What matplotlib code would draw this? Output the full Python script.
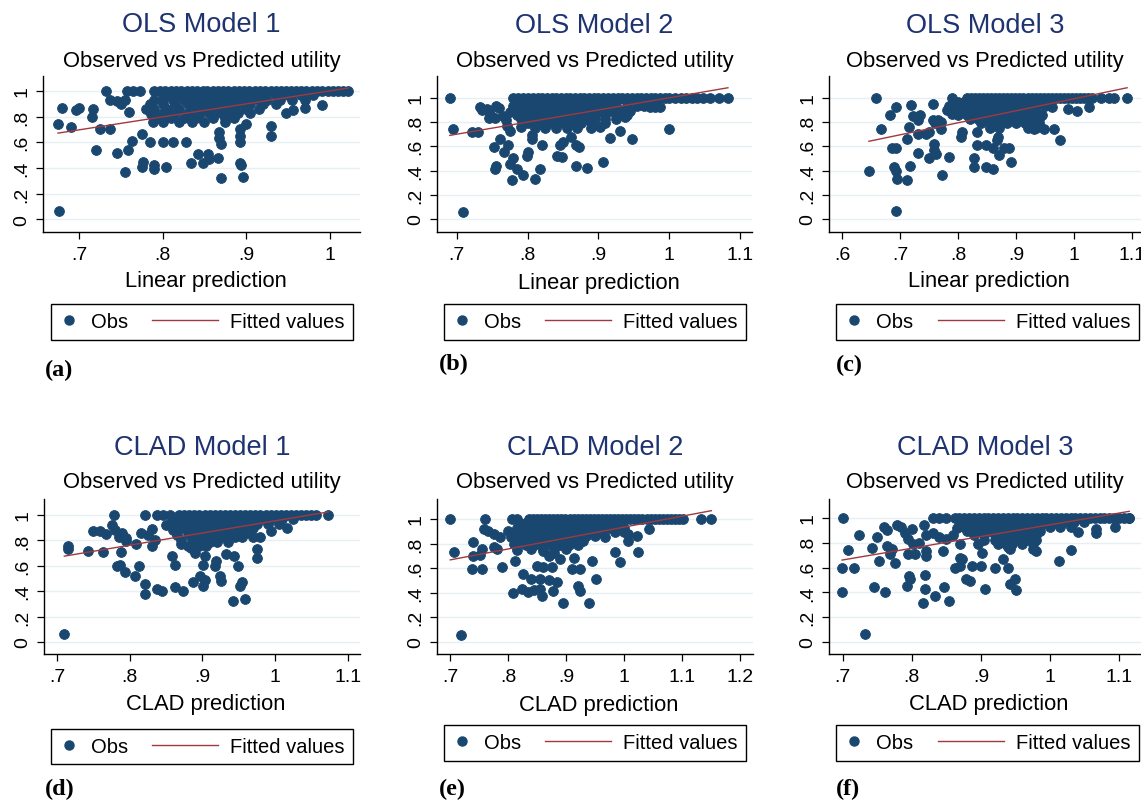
import numpy as np
import matplotlib
matplotlib.use("Agg")
import matplotlib.pyplot as plt
from matplotlib.lines import Line2D
from matplotlib.legend_handler import HandlerBase

# ---------------- data ----------------
titles = ["OLS Model 1", "OLS Model 2", "OLS Model 3",
          "CLAD Model 1", "CLAD Model 2", "CLAD Model 3"]
subtitle = "Observed vs Predicted utility"
xlabels = ["Linear prediction"] * 3 + ["CLAD prediction"] * 3
panel_tags = ["(a)", "(b)", "(c)", "(d)", "(e)", "(f)"]
legend_labels = ["Obs", "Fitted values"]

y_ticks = [0, 0.2, 0.4, 0.6, 0.8, 1.0]
y_ticklabels = ["0", ".2", ".4", ".6", ".8", "1"]
x_ticks = [
    [0.7, 0.8, 0.9, 1.0],
    [0.7, 0.8, 0.9, 1.0, 1.1],
    [0.6, 0.7, 0.8, 0.9, 1.0, 1.1],
    [0.7, 0.8, 0.9, 1.0, 1.1],
    [0.7, 0.8, 0.9, 1.0, 1.1, 1.2],
    [0.7, 0.8, 0.9, 1.0, 1.1],
]
x_ticklabels = [
    [".7", ".8", ".9", "1"],
    [".7", ".8", ".9", "1", "1.1"],
    [".6", ".7", ".8", ".9", "1", "1.1"],
    [".7", ".8", ".9", "1", "1.1"],
    [".7", ".8", ".9", "1", "1.1", "1.2"],
    [".7", ".8", ".9", "1", "1.1"],
]

# fitted line: (intercept, slope)
fits = [(-0.013, 1.014), (0.0, 1.0), (0.002, 0.99),
        (-0.004, 0.958), (0.047, 0.887), (0.0, 0.945)]

# --- OLS model 1 (prediction, observed) ---
ols1_pts = [(0.675,0.74),(0.68,0.87),(0.676,0.06),(0.69,0.72),(0.697,0.85),(0.70,0.87),
    (0.717,0.86),(0.716,0.80),(0.72,0.54),(0.725,0.70),(0.737,0.70),(0.732,1.0),(0.737,0.93),
    (0.745,0.92),(0.75,0.90),(0.755,0.93),(0.76,0.84),(0.745,0.52),(0.755,0.365),(0.759,0.54),
    (0.764,0.61),(0.757,1.0),(0.765,1.0),(0.773,1.0),(0.775,0.665),(0.777,0.445),(0.775,0.405),
    (0.785,0.60),(0.79,0.42),(0.79,0.39),(0.78,0.86),(0.786,0.82),(0.788,0.76),(0.80,0.60),
    (0.804,0.41),(0.812,0.60),(0.828,0.60),(0.834,0.44),(0.842,0.51),(0.848,0.44),(0.854,0.51),
    (0.856,0.47),(0.866,0.48),(0.868,0.68),(0.868,0.63),(0.87,0.59),(0.87,0.32),(0.892,0.70),
    (0.892,0.65),(0.892,0.60),(0.892,0.44),(0.894,0.42),(0.896,0.33),(0.90,0.74),(0.93,0.73),
    (0.93,0.65),(0.948,0.83),(0.956,0.85),(0.97,0.87),(0.99,0.89),(1.022,1.0)]
ols1_rows = {
    1.0: [0.79,0.797,0.803,0.81,0.816,0.822,0.829,0.835,0.841,0.848,0.853,0.86,0.866,0.872,0.878,
          0.885,0.891,0.897,0.903,0.91,0.916,0.922,0.929,0.935,0.941,0.947,0.953,0.96,0.966,0.972,
          0.979,0.985,0.991,0.998,1.004,1.01,1.016],
    0.965: [0.80,0.81,0.82,0.83,0.84,0.85,0.86,0.87,0.88,0.89,0.90,0.91,0.92,0.935,0.95,0.965,0.98],
    0.93: [0.79,0.80,0.812,0.825,0.835,0.845,0.855,0.865,0.875,0.885,0.895,0.905,0.915,0.925,0.94,0.955,0.97],
    0.895: [0.785,0.80,0.815,0.83,0.84,0.85,0.86,0.87,0.88,0.89,0.905,0.92,0.935],
    0.86: [0.79,0.805,0.82,0.835,0.845,0.855,0.865,0.875,0.885,0.90,0.915],
    0.825: [0.80,0.815,0.83,0.845,0.855,0.87,0.88,0.89,0.905],
    0.79: [0.795,0.81,0.825,0.84,0.86,0.875,0.885],
    0.755: [0.80,0.82,0.835,0.85,0.875],
}

# --- OLS model 2 ---
ols2_pts = [(0.69,1.0),(0.695,0.745),(0.709,0.06),(0.721,0.72),(0.73,0.72),(0.733,0.925),
    (0.735,0.90),(0.742,0.91),(0.747,0.87),(0.752,0.595),(0.754,0.41),(0.756,0.44),(0.755,0.93),
    (0.76,0.92),(0.765,0.85),(0.77,0.82),(0.775,0.88),(0.761,0.66),(0.766,0.55),(0.773,0.61),
    (0.775,0.455),(0.778,0.32),(0.78,0.50),(0.785,0.415),(0.794,0.36),(0.799,0.52),(0.80,0.55),
    (0.806,0.69),(0.806,0.66),(0.811,0.33),(0.818,0.415),(0.82,0.61),(0.841,0.52),(0.848,0.51),
    (0.846,0.61),(0.85,0.635),(0.862,0.675),(0.869,0.61),(0.872,0.595),(0.869,0.44),(0.884,0.42),
    (0.907,0.47),(0.902,0.76),(0.916,0.67),(0.93,0.73),(0.947,0.66),(0.938,0.84),(0.973,0.925),
    (0.987,0.925),(0.98,0.925),(1.0,0.745),(1.083,1.0),(1.07,1.0),(1.058,1.0),(0.754,0.83),
    (0.771,0.77),(0.775,0.73),(0.79,0.76),(0.745,0.83)]
ols2_rows = {
    1.0: [0.78,0.787,0.794,0.80,0.807,0.814,0.82,0.827,0.834,0.84,0.847,0.854,0.86,0.867,0.874,
          0.88,0.887,0.894,0.90,0.907,0.914,0.92,0.927,0.934,0.94,0.947,0.954,0.96,0.967,0.974,
          0.98,0.987,0.994,1.0,1.008,1.016,1.024,1.032,1.04,1.048],
    0.965: [0.785,0.795,0.805,0.815,0.825,0.835,0.845,0.855,0.865,0.875,0.885,0.895,0.905,0.915,0.925,0.94,0.955],
    0.93: [0.78,0.79,0.80,0.81,0.82,0.83,0.84,0.85,0.86,0.87,0.88,0.89,0.90,0.91,0.925,0.94,0.955,0.965],
    0.895: [0.78,0.795,0.81,0.82,0.83,0.84,0.85,0.86,0.87,0.88,0.89,0.90,0.915,0.93,0.945],
    0.86: [0.785,0.80,0.815,0.83,0.845,0.86,0.875,0.885,0.895,0.91,0.925,0.94],
    0.825: [0.79,0.805,0.82,0.835,0.85,0.865,0.88,0.895,0.91,0.925],
    0.79: [0.80,0.815,0.83,0.845,0.86,0.875,0.89,0.91],
    0.755: [0.81,0.825,0.84,0.855,0.87,0.89],
}

# --- OLS model 3 ---
ols3_pts = [(0.646,0.40),(0.658,1.0),(0.666,0.74),(0.682,0.86),(0.686,0.59),(0.692,0.59),
    (0.689,0.43),(0.692,0.40),(0.692,0.925),(0.695,0.33),(0.692,0.064),(0.712,0.66),(0.712,0.32),
    (0.717,0.44),(0.715,0.76),(0.718,0.94),(0.722,0.85),(0.73,0.82),(0.735,0.86),(0.73,0.545),
    (0.73,0.70),(0.745,0.70),(0.75,0.72),(0.75,0.50),(0.756,0.945),(0.756,0.815),(0.758,0.62),
    (0.758,0.57),(0.761,0.54),(0.773,0.36),(0.77,0.745),(0.77,0.80),(0.784,0.51),(0.78,0.90),
    (0.785,0.93),(0.79,0.87),(0.80,0.92),(0.805,0.675),(0.807,0.72),(0.828,0.43),(0.828,0.50),
    (0.833,0.72),(0.833,0.61),(0.848,0.61),(0.86,0.59),(0.848,0.43),(0.86,0.415),(0.869,0.68),
    (0.868,0.65),(0.871,0.525),(0.88,0.59),(0.888,0.59),(0.892,0.47),(0.931,0.745),(0.949,0.745),
    (0.966,0.745),(0.976,0.65),(0.963,0.925),(0.99,0.91),(1.005,0.89),(1.027,0.925),(1.047,1.0),
    (1.06,1.0),(1.07,1.0),(1.092,1.0),(0.76,0.79),(0.765,0.82)]
ols3_rows = {
    1.0: [0.79,0.815,0.822,0.829,0.836,0.843,0.85,0.857,0.864,0.871,0.878,0.885,0.892,0.899,0.906,
          0.913,0.92,0.927,0.934,0.941,0.948,0.955,0.962,0.969,0.976,0.983,0.99,0.997,1.004,1.011,
          1.018,1.025,1.032],
    0.965: [0.80,0.81,0.82,0.83,0.84,0.85,0.86,0.87,0.88,0.89,0.90,0.91,0.92,0.93,0.94,0.955],
    0.93: [0.79,0.80,0.81,0.82,0.83,0.84,0.85,0.86,0.87,0.88,0.89,0.90,0.91,0.92,0.935,0.95],
    0.895: [0.79,0.805,0.82,0.835,0.85,0.86,0.87,0.88,0.89,0.90,0.91,0.92,0.935],
    0.86: [0.80,0.815,0.83,0.845,0.86,0.875,0.89,0.905,0.92,0.935,0.945],
    0.825: [0.82,0.835,0.85,0.865,0.88,0.895,0.91,0.925,0.94],
    0.79: [0.84,0.855,0.87,0.885,0.90,0.915,0.93,0.94],
    0.755: [0.855,0.87,0.92,0.935],
}

# --- CLAD model 1 ---
clad1_pts = [(0.71,0.06),(0.715,0.755),(0.715,0.73),(0.743,0.717),(0.75,0.874),(0.759,0.874),
    (0.768,0.85),(0.763,0.71),(0.778,1.0),(0.775,0.92),(0.78,0.88),(0.785,0.83),(0.79,0.86),
    (0.783,0.60),(0.786,0.61),(0.788,0.71),(0.795,0.82),(0.795,0.795),(0.793,0.55),(0.807,0.52),
    (0.813,0.60),(0.809,0.77),(0.821,1.0),(0.821,0.455),(0.821,0.375),(0.815,0.86),(0.825,0.84),
    (0.83,0.89),(0.835,0.80),(0.83,0.755),(0.837,0.415),(0.844,0.40),(0.837,1.0),(0.846,1.0),
    (0.855,1.0),(0.85,0.92),(0.86,0.88),(0.865,0.84),(0.87,0.80),(0.858,0.68),(0.862,0.61),
    (0.862,0.43),(0.873,0.40),(0.871,0.77),(0.887,0.47),(0.897,0.52),(0.901,0.44),(0.903,0.49),
    (0.901,0.61),(0.903,0.68),(0.917,0.60),(0.919,0.64),(0.924,0.52),(0.926,0.48),(0.933,0.69),
    (0.943,0.68),(0.942,0.32),(0.949,0.60),(0.952,0.44),(0.954,0.47),(0.959,0.34),(0.975,0.73),
    (0.975,0.66),(0.97,0.83),(0.98,0.83),(0.995,0.874),(1.016,0.90),(1.073,1.0),(0.88,0.76),
    (0.885,0.74),(0.89,0.70)]
clad1_rows = {
    1.0: [0.868,0.875,0.882,0.889,0.896,0.903,0.91,0.917,0.924,0.931,0.938,0.945,0.952,0.959,0.966,
          0.973,0.98,0.987,0.994,1.001,1.008,1.015,1.022,1.029,1.036,1.043,1.05,1.057],
    0.965: [0.86,0.87,0.88,0.89,0.90,0.91,0.92,0.93,0.94,0.95,0.96,0.97,0.98,0.995,1.01,1.025],
    0.93: [0.855,0.865,0.875,0.885,0.895,0.905,0.915,0.925,0.935,0.945,0.955,0.965,0.975,0.99,1.005],
    0.895: [0.87,0.88,0.89,0.90,0.91,0.92,0.93,0.94,0.95,0.96,0.97],
    0.86: [0.88,0.89,0.90,0.91,0.92,0.93,0.94,0.95,0.96],
    0.825: [0.885,0.895,0.905,0.915,0.925,0.935,0.945,0.955],
    0.79: [0.89,0.90,0.91,0.92,0.935],
    0.755: [0.895,0.905],
}

# --- CLAD model 2 ---
clad2_pts = [(0.70,1.0),(0.706,0.734),(0.718,0.054),(0.74,0.815),(0.739,0.70),(0.752,0.706),
    (0.737,0.59),(0.755,0.59),(0.76,1.0),(0.758,0.92),(0.765,0.90),(0.775,0.88),(0.755,0.755),
    (0.775,0.77),(0.78,0.755),(0.789,0.606),(0.786,0.85),(0.806,1.0),(0.809,0.40),(0.812,0.66),
    (0.80,0.90),(0.805,0.85),(0.81,0.80),(0.815,0.75),(0.82,0.83),(0.825,0.88),(0.826,0.55),
    (0.824,0.43),(0.835,0.41),(0.845,0.42),(0.855,0.43),(0.84,0.51),(0.849,0.62),(0.861,0.606),
    (0.858,0.375),(0.855,0.51),(0.87,0.50),(0.875,0.606),(0.878,0.415),(0.884,0.49),(0.89,0.674),
    (0.895,0.32),(0.91,0.59),(0.924,0.59),(0.921,0.455),(0.924,0.415),(0.913,0.687),(0.94,0.32),
    (0.944,0.66),(0.952,0.51),(0.967,0.85),(0.985,0.73),(0.993,0.65),(1.007,0.877),(1.022,0.864),
    (1.007,0.823),(1.025,0.734),(1.044,0.918),(1.134,1.0),(1.151,1.0),(0.815,1.0),(0.87,0.70),
    (0.88,0.72),(0.86,0.74)]
clad2_rows = {
    1.0: [0.836,0.843,0.85,0.857,0.864,0.871,0.878,0.885,0.892,0.899,0.906,0.913,0.92,0.927,0.934,
          0.941,0.948,0.955,0.962,0.969,0.976,0.983,0.99,0.997,1.004,1.011,1.018,1.025,1.032,1.039,
          1.046,1.053,1.06,1.067,1.074,1.081,1.088,1.095,1.102],
    0.965: [0.82,0.83,0.84,0.85,0.86,0.87,0.88,0.89,0.90,0.91,0.92,0.93,0.94,0.95,0.96,0.975,0.99],
    0.93: [0.815,0.825,0.835,0.845,0.855,0.865,0.875,0.885,0.895,0.905,0.915,0.925,0.935,0.945,0.96,0.975,0.99,1.0],
    0.895: [0.815,0.83,0.845,0.855,0.865,0.875,0.885,0.895,0.905,0.915,0.93,0.945,0.96,0.985,1.0],
    0.86: [0.82,0.835,0.85,0.865,0.875,0.885,0.895,0.905,0.92,0.935,0.95],
    0.825: [0.825,0.84,0.855,0.87,0.885,0.90,0.915,0.93],
    0.79: [0.83,0.845,0.86,0.875,0.89,0.905,0.92],
    0.755: [0.84,0.86,0.88,0.90],
}

# --- CLAD model 3 ---
clad3_pts = [(0.70,1.0),(0.699,0.60),(0.699,0.40),(0.707,0.74),(0.716,0.595),(0.723,0.865),
    (0.732,0.062),(0.742,0.755),(0.745,0.44),(0.749,0.844),(0.752,0.655),(0.759,0.93),(0.764,0.90),
    (0.761,0.404),(0.764,0.77),(0.771,0.75),(0.768,0.71),(0.775,0.636),(0.778,0.943),(0.785,0.93),
    (0.79,0.88),(0.795,0.83),(0.80,0.91),(0.793,0.453),(0.796,0.534),(0.797,0.507),(0.795,0.71),
    (0.805,0.71),(0.802,0.79),(0.817,0.943),(0.816,0.318),(0.819,0.54),(0.819,0.426),(0.821,0.695),
    (0.821,0.735),(0.834,0.372),(0.845,0.735),(0.846,0.44),(0.854,0.33),(0.83,0.88),(0.84,0.85),
    (0.85,0.83),(0.86,0.86),(0.865,0.92),(0.862,0.60),(0.87,0.615),(0.87,0.68),(0.872,0.67),
    (0.879,0.51),(0.884,0.49),(0.887,0.615),(0.87,0.79),(0.896,0.79),(0.90,0.615),(0.902,0.72),
    (0.906,0.426),(0.92,0.60),(0.932,0.67),(0.937,0.79),(0.94,0.763),(0.942,0.75),(0.94,0.60),
    (0.942,0.466),(0.949,0.51),(0.951,0.418),(0.976,0.75),(0.98,0.735),(0.96,0.86),(0.975,0.85),
    (0.98,0.82),(1.013,0.655),(1.031,0.74),(1.041,0.89),(1.067,0.91),(1.067,0.88),(1.094,0.925),
    (1.115,1.0),(0.81,0.80),(0.82,0.86),(0.83,1.0),(0.84,1.0),(0.85,1.0)]
clad3_rows = {
    1.0: [0.862,0.869,0.876,0.883,0.89,0.897,0.904,0.911,0.918,0.925,0.932,0.939,0.946,0.953,0.96,
          0.967,0.974,0.981,0.988,0.995,1.002,1.009,1.016,1.023,1.03,1.037,1.044,1.051,1.058,1.065,
          1.072,1.079,1.086,1.093,1.1,1.107,1.114],
    0.965: [0.87,0.88,0.89,0.90,0.91,0.92,0.93,0.94,0.95,0.96,0.97,0.98,0.99,1.005,1.02,1.035,1.05],
    0.93: [0.875,0.885,0.895,0.905,0.915,0.925,0.935,0.945,0.955,0.965,0.975,0.985,1.0,1.015,1.03],
    0.895: [0.88,0.895,0.905,0.915,0.925,0.935,0.945,0.955,0.965,0.975,0.985],
    0.86: [0.89,0.905,0.92,0.93,0.94,0.95,0.96,0.97,0.98],
    0.825: [0.905,0.92,0.935,0.95,0.965,0.975],
    0.79: [0.925,0.945,0.96,0.975],
}

panel_points = [ols1_pts, ols2_pts, ols3_pts, clad1_pts, clad2_pts, clad3_pts]
panel_rows = [ols1_rows, ols2_rows, ols3_rows, clad1_rows, clad2_rows, clad3_rows]

# ---------------- layout (pixels) ----------------
W, H = 1141, 803
NAVY = "#1a476f"
MAROON = "#a0393f"
TITLE_C = "#1e3370"
SANS = "Liberation Sans"

axes_px = [(43, 360, 77, 233), (437, 752, 77, 233), (829, 1141, 77, 233),
           (44, 360, 500, 655), (437, 753, 500, 655), (829, 1141, 500, 655)]
xlims = [(0.657, 1.036), (0.672, 1.117), (0.577, 1.116),
         (0.682, 1.117), (0.677, 1.223), (0.680, 1.132)]
ylims = [(-0.10, 1.117), (-0.107, 1.18), (-0.107, 1.18),
         (-0.094, 1.126), (-0.098, 1.163), (-0.097, 1.153)]
title_y = [25, 26, 26, 448, 448, 448]
sub_y = [62, 62, 62, 483, 483, 483]
xlab_y = [282, 283, 281, 705, 706, 705]
legend_px = [(51, 353, 304, 342), (444, 746, 304, 342), (836, 1139, 304, 342),
             (51, 353, 728, 767), (444, 746, 725, 763), (836, 1139, 725, 763)]
tag_px = [(45, 370), (439, 364), (836, 365), (45, 789), (439, 789), (836, 789)]


class LongLineHandler(HandlerBase):
    def create_artists(self, legend, orig_handle, xdescent, ydescent,
                       width, height, fontsize, trans):
        y = height / 2.0 - ydescent
        ln = Line2D([-xdescent - 2.3 * width, -xdescent + width], [y, y],
                    color=orig_handle.get_color(), lw=orig_handle.get_linewidth())
        ln.set_transform(trans)
        return [ln]


fig = plt.figure(figsize=(W / 100, H / 100), dpi=100)
fig.patch.set_facecolor("white")

for i in range(6):
    l, r, t, b = axes_px[i]
    ax = fig.add_axes([l / W, 1 - b / H, (r - l) / W, (b - t) / H])
    xs = [p[0] for p in panel_points[i]]
    ys = [p[1] for p in panel_points[i]]
    for yv, xrow in panel_rows[i].items():
        xs += xrow
        ys += [yv] * len(xrow)
    xs = np.array(xs)
    ys = np.array(ys)
    ax.scatter(xs, ys, s=50, color=NAVY, edgecolors=NAVY, linewidths=0.6, zorder=2)
    a0, a1 = fits[i]
    xf = np.array([xs.min(), xs.max()])
    ax.plot(xf, a0 + a1 * xf, color=MAROON, lw=1.0, zorder=3)

    ax.set_xlim(*xlims[i])
    ax.set_ylim(*ylims[i])
    ax.set_xticks(x_ticks[i])
    ax.set_xticklabels(x_ticklabels[i], family=SANS, fontsize=14)
    ax.set_yticks(y_ticks)
    ax.set_yticklabels(y_ticklabels, family=SANS, fontsize=14, rotation=90,
                       va="center", ha="right")
    ax.tick_params(axis="x", direction="out", length=5, width=0.9, pad=5, colors="black")
    ax.tick_params(axis="y", direction="out", length=5, width=0.9, pad=4, colors="black")
    ax.yaxis.grid(True, color="#e6eff1", lw=1.0)
    ax.set_axisbelow(True)
    for s in ("top", "right"):
        ax.spines[s].set_visible(False)
    for s in ("left", "bottom"):
        ax.spines[s].set_linewidth(1.0)
        ax.spines[s].set_color("black")

    cx = (l + r) / 2.0 / W
    fig.text(cx, 1 - title_y[i] / H, titles[i], ha="center", va="center",
             family=SANS, fontsize=19.5, color=TITLE_C)
    fig.text(cx, 1 - sub_y[i] / H, subtitle, ha="center", va="center",
             family=SANS, fontsize=15.8, color="black")
    fig.text(cx + 4 / W, 1 - xlab_y[i] / H, xlabels[i], ha="center", va="center",
             family=SANS, fontsize=15.8, color="black")

    ll, lr, lt, lb = legend_px[i]
    obs_h = Line2D([], [], ls="none", marker="o", ms=6.5, color=NAVY)
    fit_h = Line2D([], [], color=MAROON, lw=1.0)
    leg = ax.legend([obs_h, fit_h], legend_labels, ncol=2, mode="expand",
                    bbox_to_anchor=(ll / W, 1 - lb / H, (lr - ll) / W, (lb - lt) / H),
                    bbox_transform=fig.transFigure, loc="center",
                    handlelength=1.0, handletextpad=0.6, borderpad=0.4,
                    borderaxespad=0, fancybox=False, frameon=True,
                    edgecolor="black", framealpha=1,
                    prop=dict(family=SANS, size=14.5),
                    handler_map={fit_h: LongLineHandler()})
    leg.get_frame().set_linewidth(1.0)

    tx, ty = tag_px[i]
    fig.text(tx / W, 1 - ty / H, panel_tags[i], ha="left", va="center",
             family="Liberation Serif", weight="bold", fontsize=17.5, color="black")

fig.savefig("out.png", dpi=100, facecolor="white")
